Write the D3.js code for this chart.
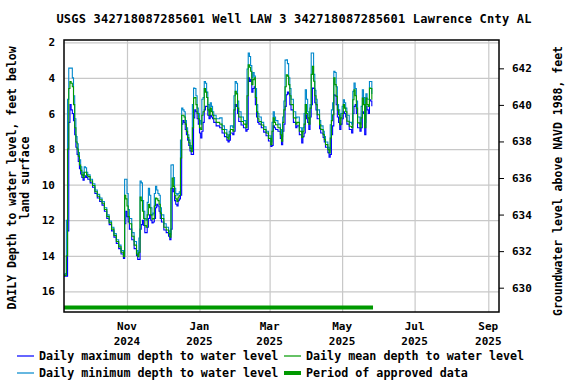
<!DOCTYPE html>
<html>
<head>
<meta charset="utf-8">
<script src="https://cdn.jsdelivr.net/npm/d3@7"></script>
<style>
  body { margin: 0; background: #fff; }
  text { font-family: "DejaVu Sans Mono", monospace; font-weight: bold; fill: #000; }
</style>
</head>
<body>
<svg id="chart"></svg>
<script>
const title = 'USGS 342718087285601 Well LAW 3 342718087285601 Lawrence Cnty AL';

const obsDates = [
  '2024-09-09','2024-09-10','2024-09-11','2024-09-12','2024-09-13','2024-09-14','2024-09-15','2024-09-16',
  '2024-09-17','2024-09-18','2024-09-19','2024-09-20','2024-09-21','2024-09-22','2024-09-23','2024-09-24',
  '2024-09-25','2024-09-26','2024-09-27','2024-09-28','2024-09-29','2024-10-01','2024-10-03','2024-10-05',
  '2024-10-07','2024-10-09','2024-10-11','2024-10-13','2024-10-15','2024-10-17','2024-10-19','2024-10-21',
  '2024-10-23','2024-10-25','2024-10-27','2024-10-29','2024-10-30','2024-10-31','2024-11-01','2024-11-02',
  '2024-11-03','2024-11-05','2024-11-07','2024-11-09','2024-11-10','2024-11-11','2024-11-12','2024-11-13',
  '2024-11-14','2024-11-15','2024-11-16','2024-11-17','2024-11-18','2024-11-19','2024-11-20','2024-11-21',
  '2024-11-22','2024-11-23','2024-11-24','2024-11-25','2024-11-26','2024-11-27','2024-11-28','2024-11-29',
  '2024-11-30','2024-12-02','2024-12-04','2024-12-06','2024-12-07','2024-12-08','2024-12-09','2024-12-10',
  '2024-12-11','2024-12-12','2024-12-13','2024-12-14','2024-12-15','2024-12-16','2024-12-17','2024-12-18',
  '2024-12-19','2024-12-20','2024-12-21','2024-12-22','2024-12-23','2024-12-24','2024-12-25','2024-12-26',
  '2024-12-27','2024-12-28','2024-12-29','2024-12-30','2024-12-31','2025-01-01','2025-01-02','2025-01-03',
  '2025-01-04','2025-01-05','2025-01-06','2025-01-07','2025-01-08','2025-01-09','2025-01-10','2025-01-11',
  '2025-01-12','2025-01-13','2025-01-15','2025-01-17','2025-01-18','2025-01-20','2025-01-22','2025-01-24',
  '2025-01-25','2025-01-26','2025-01-27','2025-01-29','2025-01-30','2025-01-31','2025-02-01','2025-02-02',
  '2025-02-03','2025-02-05','2025-02-07','2025-02-09','2025-02-10','2025-02-11','2025-02-12','2025-02-13',
  '2025-02-14','2025-02-15','2025-02-16','2025-02-17','2025-02-18','2025-02-19','2025-02-20','2025-02-22',
  '2025-02-24','2025-02-26','2025-02-28','2025-03-02','2025-03-03','2025-03-04','2025-03-05','2025-03-06',
  '2025-03-08','2025-03-10','2025-03-11','2025-03-12','2025-03-13','2025-03-14','2025-03-15','2025-03-16',
  '2025-03-17','2025-03-18','2025-03-19','2025-03-21','2025-03-23','2025-03-24','2025-03-26','2025-03-28',
  '2025-03-29','2025-03-30','2025-03-31','2025-04-01','2025-04-02','2025-04-03','2025-04-04','2025-04-05',
  '2025-04-06','2025-04-07','2025-04-08','2025-04-09','2025-04-10','2025-04-12','2025-04-13','2025-04-15',
  '2025-04-16','2025-04-17','2025-04-19','2025-04-20','2025-04-21','2025-04-22','2025-04-23','2025-04-24',
  '2025-04-25','2025-04-26','2025-04-27','2025-04-28','2025-04-29','2025-04-30','2025-05-01','2025-05-02',
  '2025-05-03','2025-05-04','2025-05-05','2025-05-07','2025-05-09','2025-05-10','2025-05-11','2025-05-12',
  '2025-05-13','2025-05-14','2025-05-16','2025-05-17','2025-05-18','2025-05-19','2025-05-20','2025-05-21',
  '2025-05-22','2025-05-23','2025-05-24','2025-05-25','2025-05-26'
];

// daily maximum depth (deepest reading of the day)
const maxDepth = [
  15.15,15.15,15.15,12.60,6.50,5.50,5.80,6.00, 6.40,7.20,7.90,8.30,8.70,9.10,9.40,9.60,
  9.75,9.60,9.50,9.60,9.70,9.90,10.15,10.50, 10.75,10.95,11.15,11.50,11.90,12.25,12.60,12.95,
  13.30,13.60,13.90,14.15,12.20,11.50,11.80,12.10, 12.50,13.10,13.60,14.00,14.20,14.20,12.50,12.25,
  12.00,12.30,12.70,12.70,12.40,11.90,11.70,12.00, 12.15,12.10,11.90,11.30,11.10,11.20,11.50,11.90,
  12.10,12.55,12.70,12.90,13.10,12.50,10.20,10.40, 10.90,11.10,11.20,10.90,10.80,10.60,6.60,6.40,
  6.50,6.90,7.20,7.50,7.80,8.10,8.30,8.30, 6.25,5.80,5.90,6.30,6.60,7.10,7.38,7.00,
  6.50,5.80,5.60,5.60,6.10,6.30,6.10,6.20, 6.30,6.50,6.70,6.70,6.80,7.10,7.30,7.50,
  7.60,7.50,7.10,7.20,7.00,5.50,5.60,6.00, 6.45,6.65,6.80,7.00,6.90,4.00,4.20,4.10,
  4.80,4.60,4.50,5.50,6.20,6.50,6.60,6.80, 7.05,7.25,7.55,7.85,7.80,6.70,6.80,6.90,
  7.00,7.40,7.75,7.00,6.60,5.60,4.95,4.80, 4.90,5.50,5.80,6.50,6.80,6.70,7.20,7.66,
  7.30,7.10,6.07,6.30,6.50,6.90,6.20,5.50, 4.57,4.60,5.40,5.80,6.30,6.85,7.10,7.35,
  7.60,7.90,8.20,8.46,8.30,7.20,6.70,4.95, 5.00,5.50,6.20,6.50,6.90,6.60,6.30,5.90,
  6.00,6.20,6.60,6.90,7.10,6.00,5.60,5.50, 6.00,6.80,7.00,6.80,5.90,6.00,7.19,5.60,
  5.80,6.00,5.23,5.30,5.60
];

// daily minimum depth (shallowest reading of the day)
const minDepth = [
  15.05,15.00,12.00,5.20,3.45,3.45,3.45,4.00, 5.00,6.30,7.30,7.70,8.20,8.60,9.00,9.30,
  9.50,9.00,9.05,9.30,9.45,9.70,9.95,10.30, 10.55,10.75,10.95,11.30,11.70,12.05,12.40,12.75,
  13.10,13.40,13.70,13.95,9.70,9.70,10.50,11.40, 11.90,12.70,13.20,13.70,13.90,13.00,9.80,9.90,
  10.90,11.50,11.90,12.00,11.00,10.20,10.60,11.30, 11.70,11.60,10.50,10.10,10.30,10.50,10.60,11.30,
  11.70,12.20,12.40,12.60,12.80,8.90,8.88,9.60, 10.20,10.50,10.60,10.50,10.40,7.50,5.70,5.80,
  5.90,6.40,6.80,7.20,7.50,7.80,8.00,5.50, 4.57,4.60,5.00,5.70,6.00,6.40,6.60,5.20,
  5.10,4.20,4.30,4.80,5.50,5.90,5.40,5.60, 5.90,6.10,6.30,6.30,6.25,6.70,6.90,7.20,
  7.30,7.00,6.70,6.80,5.00,4.20,4.30,5.30, 5.90,6.20,6.40,6.60,3.50,2.60,2.80,3.30,
  4.00,3.70,3.90,4.60,5.50,6.00,6.20,6.50, 6.75,7.00,7.25,7.60,6.50,5.90,6.20,6.40,
  6.60,6.90,7.30,6.20,5.30,3.00,2.98,3.20, 4.00,4.60,5.20,5.90,6.25,6.20,6.80,7.10,
  6.80,6.00,4.67,5.20,5.90,6.30,5.50,2.60, 2.60,3.80,4.70,5.20,5.80,6.40,6.70,7.00,
  7.30,7.60,7.90,8.05,6.63,5.80,5.40,3.63, 3.70,4.50,5.50,5.80,6.30,6.00,5.60,5.23,
  5.40,5.70,6.10,6.50,6.60,4.76,4.29,4.60, 5.30,6.20,6.60,5.60,4.67,5.10,6.50,4.90,
  5.20,5.20,4.20,4.20,4.90
];

// daily mean depth
const meanDepth = [
  15.10,15.10,14.00,8.00,4.60,4.20,4.30,4.50, 5.50,6.80,7.60,8.00,8.40,8.90,9.20,9.45,
  9.60,9.30,9.30,9.45,9.55,9.80,10.05,10.40, 10.65,10.85,11.05,11.40,11.80,12.15,12.50,12.85,
  13.20,13.50,13.80,14.05,10.60,10.80,11.20,11.80, 12.20,12.90,13.40,13.90,14.05,13.80,10.70,10.90,
  11.50,11.90,12.30,12.40,11.70,11.10,11.30,11.70, 11.95,11.90,11.20,10.75,10.80,10.90,11.10,11.60,
  11.90,12.40,12.55,12.75,12.95,10.20,9.63,10.10, 10.60,10.80,10.95,10.70,10.60,8.50,6.10,6.10,
  6.20,6.60,7.00,7.35,7.65,7.95,8.15,6.80, 5.13,5.10,5.50,6.00,6.30,6.80,6.90,6.10,
  5.90,4.60,4.80,5.10,5.80,6.10,5.70,5.90, 6.10,6.30,6.50,6.50,6.60,6.90,7.10,7.35,
  7.45,7.20,6.90,7.00,5.80,4.76,4.90,5.70, 6.20,6.45,6.60,6.80,5.00,3.26,3.40,3.63,
  4.38,4.10,4.00,5.10,5.90,6.30,6.45,6.65, 6.90,7.10,7.40,7.75,7.00,6.25,6.50,6.63,
  6.80,7.20,7.56,6.50,5.80,4.50,3.82,3.90, 4.38,5.00,5.50,6.25,6.60,6.50,7.00,7.35,
  7.00,6.60,5.50,6.00,6.25,6.60,5.70,3.80, 3.35,4.19,5.00,5.50,6.07,6.63,6.90,7.19,
  7.47,7.75,8.03,8.22,7.38,6.40,6.07,4.00, 4.38,5.04,5.80,6.07,6.63,6.25,6.00,5.50,
  5.70,5.90,6.44,6.72,6.80,5.23,4.67,5.00, 5.70,6.53,6.80,6.25,5.13,5.50,6.80,5.13,
  5.50,5.60,4.57,4.60,5.23
];

const approvedPeriod = ['2024-09-09', '2025-05-27'];
const xDomain = ['2024-09-09', '2025-09-10'];
const xTickDates = ['2024-11-01', '2025-01-01', '2025-03-01', '2025-05-01', '2025-07-01', '2025-09-01'];
const xTickMonths = ['Nov', 'Jan', 'Mar', 'May', 'Jul', 'Sep'];
const xTickYears = ['2024', '2025', '2025', '2025', '2025', '2025'];
const leftTicks = [2, 4, 6, 8, 10, 12, 14, 16];
const rightTicks = [630, 632, 634, 636, 638, 640, 642];

const width = 576;
const height = 384;
const m = { left: 64, right: 499, top: 40, bottom: 312 };

const svg = d3.select('#chart')
  .attr('width', width)
  .attr('height', height);

const parse = d3.utcParse('%Y-%m-%d');

const x = d3.scaleUtc()
  .domain(xDomain.map(parse))
  .range([m.left, m.right]);

const y = d3.scaleLinear()
  .domain([1.87, 17.16])
  .range([m.top, m.bottom]);

const yRight = d3.scaleLinear()
  .domain([643.55, 628.67])
  .range([m.top, m.bottom]);

// horizontal grid + left labels
const leftAxis = svg.append('g')
  .attr('transform', `translate(${m.left},0)`)
  .call(d3.axisLeft(y).tickValues(leftTicks).tickSize(-(m.right - m.left)).tickPadding(9));
leftAxis.select('.domain').remove();
leftAxis.selectAll('line').attr('stroke', '#c8c8c8').attr('stroke-width', 1.2);
leftAxis.selectAll('text').style('font-size', '11px');

// vertical grid
const bottomAxis = svg.append('g')
  .attr('transform', `translate(0,${m.bottom})`)
  .call(d3.axisBottom(x).tickValues(xTickDates.map(parse)).tickSize(-(m.bottom - m.top)).tickFormat(''));
bottomAxis.select('.domain').remove();
bottomAxis.selectAll('line').attr('stroke', '#c8c8c8').attr('stroke-width', 1.2);

xTickDates.forEach((d, i) => {
  const t = svg.append('text')
    .attr('x', x(parse(d)))
    .attr('text-anchor', 'middle')
    .style('font-size', '11px');
  t.append('tspan').attr('x', x(parse(d))).attr('y', 330).text(xTickMonths[i]);
  t.append('tspan').attr('x', x(parse(d))).attr('y', 345).text(xTickYears[i]);
});

// right axis
const rightAxis = svg.append('g')
  .attr('transform', `translate(${m.right},0)`)
  .call(d3.axisRight(yRight).tickValues(rightTicks).tickSize(5).tickPadding(8));
rightAxis.select('.domain').remove();
rightAxis.selectAll('line').attr('stroke', '#000');
rightAxis.selectAll('text').style('font-size', '11px');

svg.append('clipPath').attr('id', 'clip')
  .append('rect')
  .attr('x', m.left).attr('y', m.top)
  .attr('width', m.right - m.left).attr('height', m.bottom - m.top);

const plotG = svg.append('g').attr('clip-path', 'url(#clip)');

const series = [
  { values: maxDepth, color: '#0000ff' },
  { values: minDepth, color: '#0088cc' },
  { values: meanDepth, color: '#009900' },
];

const line = d3.line()
  .x(d => x(d.date))
  .y(d => y(d.v))
  .curve(d3.curveStepAfter);

series.forEach(s => {
  const pts = obsDates.map((d, i) => ({ date: parse(d), v: s.values[i] }));
  plotG.append('path')
    .datum(pts)
    .attr('fill', 'none')
    .attr('stroke', s.color)
    .attr('stroke-width', 1.1)
    .attr('d', line);
});

// approved data bar
plotG.append('line')
  .attr('x1', x(parse(approvedPeriod[0])))
  .attr('x2', x(parse(approvedPeriod[1])))
  .attr('y1', m.bottom - 4.5)
  .attr('y2', m.bottom - 4.5)
  .attr('stroke', '#009900')
  .attr('stroke-width', 4);

// frame
svg.append('rect')
  .attr('x', m.left).attr('y', m.top)
  .attr('width', m.right - m.left).attr('height', m.bottom - m.top)
  .attr('fill', 'none')
  .attr('stroke', '#000')
  .attr('stroke-width', 1.5);

// title
svg.append('text')
  .attr('x', 294).attr('y', 23)
  .attr('text-anchor', 'middle')
  .style('font-size', '12px')
  .style('letter-spacing', '0.2px')
  .text(title);

// axis titles
const lt = svg.append('text')
  .attr('transform', 'translate(16,178) rotate(-90)')
  .attr('text-anchor', 'middle')
  .style('font-size', '11.5px');
lt.append('tspan').attr('x', 0).attr('y', 0).text('DAILY Depth to water level, feet below');
lt.append('tspan').attr('x', 0).attr('y', 13).text('land surface');

svg.append('text')
  .attr('transform', 'translate(562,181) rotate(-90)')
  .attr('text-anchor', 'middle')
  .style('font-size', '11.5px')
  .text('Groundwater level above NAVD 1988, feet');

// legend
const legendItems = [
  { label: 'Daily maximum depth to water level', color: '#0000ff', w: 1.2, x: 17, y: 356 },
  { label: 'Daily mean depth to water level', color: '#009900', w: 1.2, x: 284, y: 356 },
  { label: 'Daily minimum depth to water level', color: '#0088cc', w: 1.2, x: 17, y: 373 },
  { label: 'Period of approved data', color: '#009900', w: 4, x: 284, y: 373 },
];
const lg = svg.append('g').selectAll('g')
  .data(legendItems)
  .enter().append('g');
lg.append('line')
  .attr('x1', d => d.x).attr('x2', d => d.x + 17)
  .attr('y1', d => d.y).attr('y2', d => d.y)
  .attr('stroke', d => d.color)
  .attr('stroke-width', d => d.w);
lg.append('text')
  .attr('x', d => d.x + 22)
  .attr('y', d => d.y + 4)
  .style('font-size', '11.7px')
  .text(d => d.label);
</script>
</body>
</html>
